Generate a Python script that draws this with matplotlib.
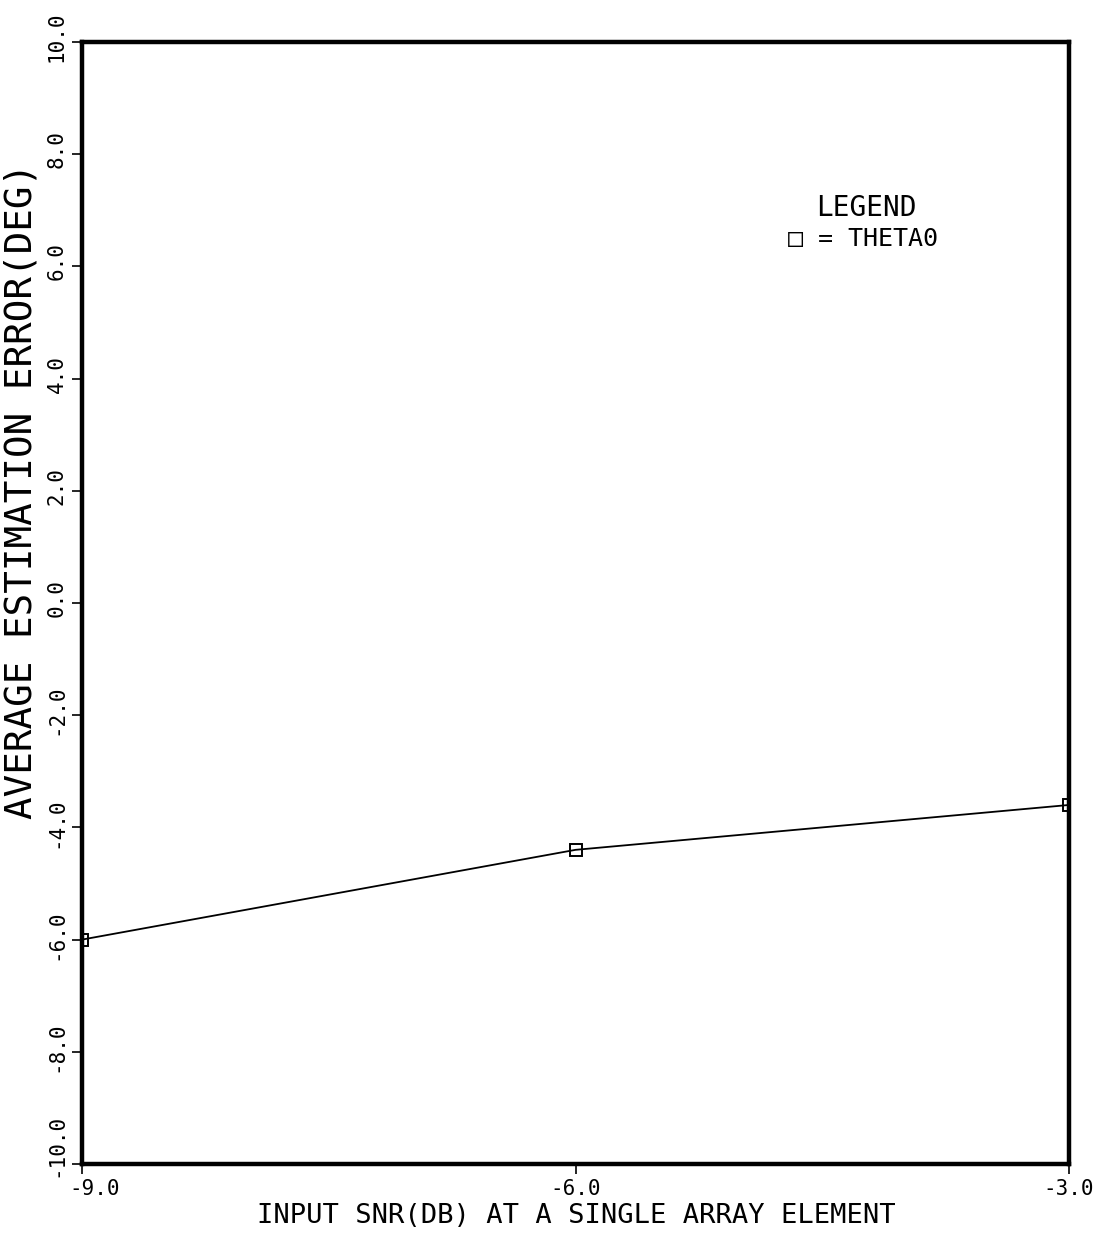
import matplotlib
matplotlib.use("Agg")
import matplotlib.pyplot as plt
from matplotlib.transforms import ScaledTranslation

# Data
snr_db = [-9.0, -6.0, -3.0]
theta0_err = [-6.0, -4.4, -3.6]
x_ticks = [-9.0, -6.0, -3.0]
x_tick_labels = ["-9.0", "-6.0", "-3.0"]
y_ticks = [-10.0, -8.0, -6.0, -4.0, -2.0, 0.0, 2.0, 4.0, 6.0, 8.0, 10.0]
y_tick_labels = ["-10.0", "-8.0", "-6.0", "-4.0", "-2.0", "0.0", "2.0", "4.0", "6.0", "8.0", "10.0"]

FONT = "DejaVu Sans Mono"
W, H = 1099, 1237
fig = plt.figure(figsize=(W / 100, H / 100), dpi=100)
ax = fig.add_axes([82 / W, 1 - 1164 / H, (1069 - 82) / W, (1164 - 42) / H])

ax.plot(snr_db, theta0_err, color="black", lw=1.3, marker="s", ms=8.5,
        mfc="none", mec="black", mew=1.4)

ax.set_xlim(-9, -3)
ax.set_ylim(-10, 10)
ax.set_xticks(x_ticks)
ax.set_xticklabels(x_tick_labels, fontfamily=FONT, fontsize=15)
ax.set_yticks(y_ticks)
ax.set_yticklabels(y_tick_labels, fontfamily=FONT, fontsize=15,
                   rotation=90, va="center")
ax.tick_params(axis="both", direction="out", length=7, width=1.2, color="black")
ax.tick_params(axis="x", pad=4)
ax.tick_params(axis="y", pad=4)
for s in ax.spines.values():
    s.set_linewidth(3.2)
    s.set_color("black")

# small offsets of tick labels as in the reference plot
for lab in ax.get_yticklabels():
    dy = 19 if lab.get_text() == "-10.0" else 5
    lab.set_transform(lab.get_transform() + ScaledTranslation(0, dy / 100, fig.dpi_scale_trans))
for lab in ax.get_xticklabels():
    if lab.get_text() == "-9.0":
        lab.set_transform(lab.get_transform() + ScaledTranslation(13 / 100, 0, fig.dpi_scale_trans))

fig.text(576 / W, 1 - 1216 / H, "INPUT SNR(DB) AT A SINGLE ARRAY ELEMENT",
         fontfamily=FONT, fontsize=19.5, ha="center", va="center")
fig.text(22 / W, 1 - 491 / H, "AVERAGE ESTIMATION ERROR(DEG)",
         fontfamily=FONT, fontsize=27, ha="center", va="center", rotation=90)

# Legend block
fig.text(866 / W, 1 - 208 / H, "LEGEND", fontfamily=FONT, fontsize=20,
         ha="center", va="center")
fig.text(788 / W, 1 - 239 / H, "\u25a1 = THETA0", fontfamily=FONT, fontsize=18,
         ha="left", va="center")

fig.savefig("out.png", dpi=100)
